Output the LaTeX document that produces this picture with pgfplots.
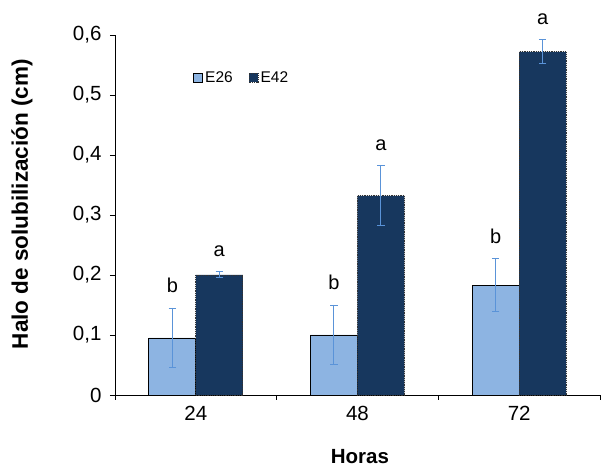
\documentclass[border=0pt]{standalone}
\usepackage{pgfplots}
\pgfplotsset{compat=1.18}
\usepackage{fontspec}
\setmainfont{Liberation Sans}
\definecolor{lightb}{HTML}{8DB4E2}
\definecolor{darkb}{HTML}{17375E}
\definecolor{errc}{HTML}{5A93D8}
\begin{document}
\begin{tikzpicture}
\begin{axis}[
 at={(115pt,79pt)}, anchor=south west,
 scale only axis, width=485pt, height=360pt,
 xmin=-0.5, xmax=2.5, ymin=0, ymax=0.6,
 ybar=0pt, bar width=47pt,
 axis lines=left, axis line style={-, black, line width=0.8pt},
 xtick={0,1,2}, xticklabels={24,48,72},
 minor xtick={-0.5,0.5,1.5,2.5},
 ytick={0,0.1,0.2,0.3,0.4,0.5,0.6},
 tick align=outside,
 major tick length=5pt, minor tick length=5pt,
 every major x tick/.append style={draw=none},
 tick style={black, line width=0.8pt},
 yticklabel style={xshift=-5pt, /pgf/number format/.cd, fixed, precision=1, use comma},
 xticklabel style={yshift=-3pt},
 /pgf/number format/assume math mode=true,
 ticklabel style={font=\fontsize{20.5}{24}\selectfont},
 xlabel={Horas}, ylabel={Halo de solubilización (cm)},
 label style={font=\bfseries\fontsize{20.5}{24}\selectfont},
 xlabel style={at={(axis description cs:0.505,0)}, yshift=-62pt, anchor=center},
 ylabel style={font=\bfseries\fontsize{22.5}{26}\selectfont, at={(axis description cs:-0.192,0.53)}, anchor=center},
 legend style={at={(axis description cs:0.155,0.881)}, anchor=west, draw=none, fill=none,
   legend columns=2, font=\fontsize{15.5}{18}\selectfont,
   /tikz/every even column/.append style={column sep=14pt}},
 legend image code/.code={\draw[#1] (0pt,-4.5pt) rectangle (9pt,4.5pt);},
 clip=false,
]
\addplot[fill=lightb, draw=black, line width=0.8pt,
  error bars/.cd, y dir=both, y explicit,
  error bar style={errc, line width=1pt, solid},
  error mark options={errc, rotate=90, mark size=3.8pt, line width=1pt, solid}]
  coordinates {(0,0.095) +- (0,0.05) (1,0.1) +- (0,0.05) (2,0.183) +- (0,0.044)};
\addplot[fill=darkb, draw=black!80, densely dotted, line width=0.8pt,
  error bars/.cd, y dir=both, y explicit,
  error bar style={errc, line width=1pt, solid},
  error mark options={errc, rotate=90, mark size=3.8pt, line width=1pt, solid}]
  coordinates {(0,0.2) +- (0,0.005) (1,0.332) +- (0,0.05) (2,0.572) +- (0,0.02)};
\legend{E26,E42}
\begin{scope}[every node/.style={font=\fontsize{20}{24}\selectfont, anchor=south, yshift=12pt}]
\node at (axis cs:-0.145,0.145) {b};
\node at (axis cs:0.145,0.205) {a};
\node at (axis cs:0.855,0.15) {b};
\node at (axis cs:1.145,0.382) {a};
\node at (axis cs:1.855,0.227) {b};
\node at (axis cs:2.145,0.592) {a};
\end{scope}
\end{axis}
\pgfresetboundingbox
\path[use as bounding box] (0,0) rectangle (603pt,474pt);
\end{tikzpicture}
\end{document}
